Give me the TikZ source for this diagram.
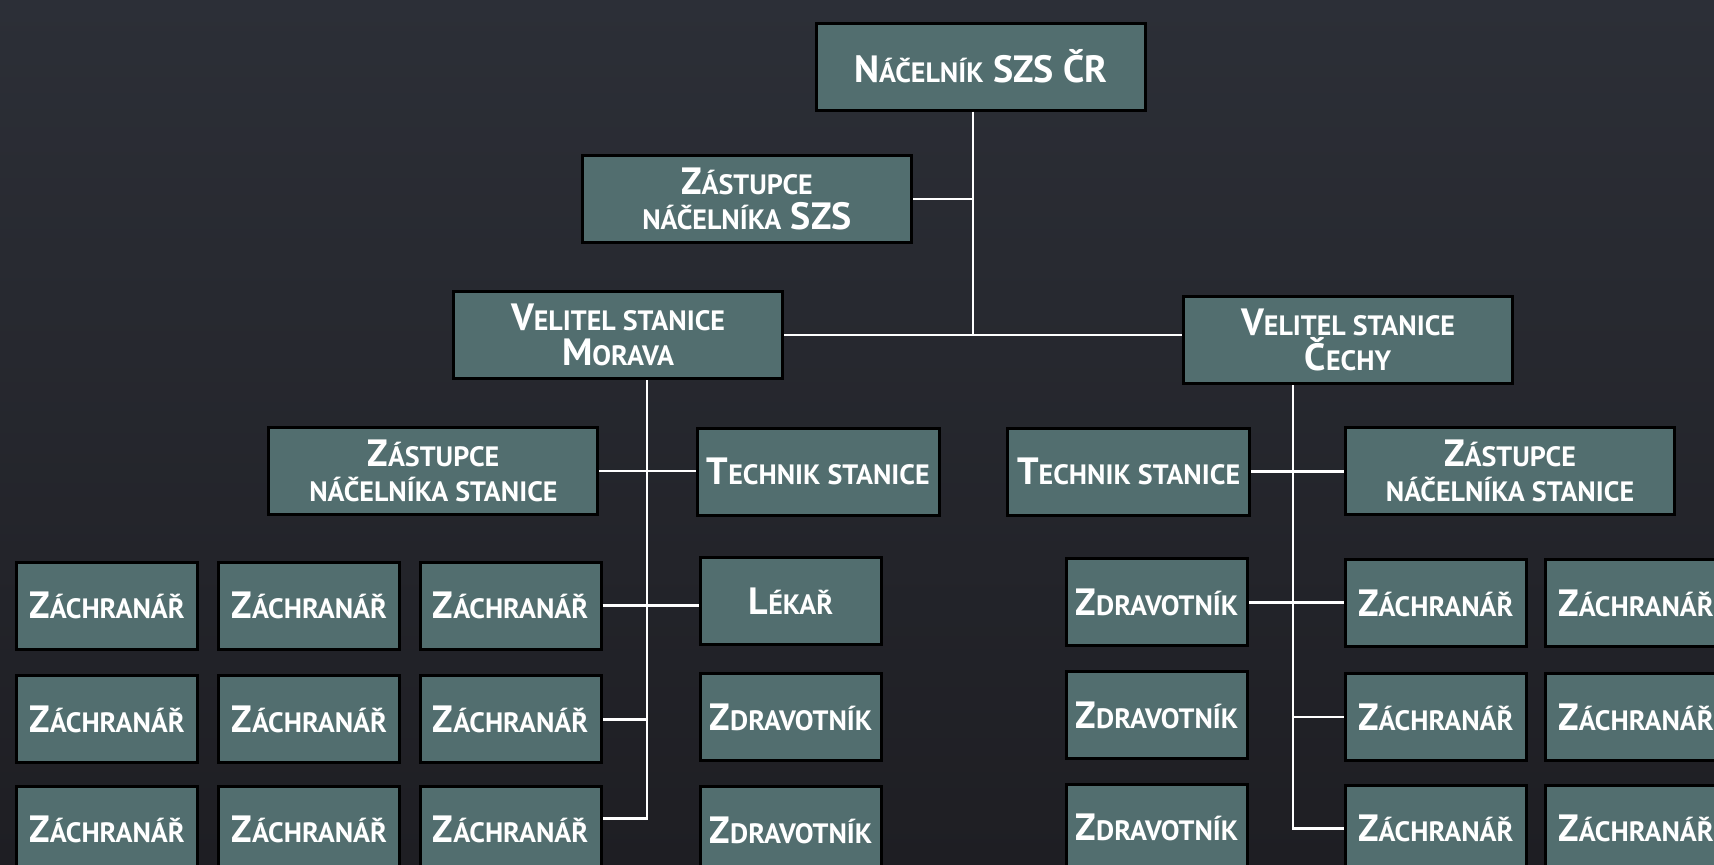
\documentclass[tikz,border=0pt]{standalone}
\usepackage{fontspec}
\setmainfont{PT Sans}
\definecolor{bgtop}{RGB}{44,47,55}
\definecolor{bgbot}{RGB}{30,30,35}
\definecolor{boxfill}{RGB}{82,110,111}
\newcommand\sm[1]{{\fontsize{14}{17.5}\selectfont#1}}
\tikzset{
  box/.style={draw=black, line width=1.5pt, fill=boxfill, text=white, inner sep=0pt,
    align=center, font=\bfseries\fontsize{19}{17.5}\selectfont},
  widebox/.style={box, minimum width=164.5pt, minimum height=43.5pt},
  midbox/.style={box, minimum width=121pt, minimum height=43.5pt},
  smallbox/.style={box, minimum width=90.5pt, minimum height=43.5pt},
  link/.style={draw=white, line width=1.25pt},
}
\begin{document}
\begin{tikzpicture}[x=0.5pt, y=-0.5pt]
    \useasboundingbox (0,0) rectangle (1714,864);
    \clip (0,0) rectangle (1714,864);
    \fill[top color=bgtop, bottom color=bgbot] (0,0) rectangle (1714,864);
    % trunks
    \coordinate (tk0) at (973,0);
    \coordinate (tk1) at (647,0);
    \coordinate (tk2) at (1293,0);
    % upper levels
    \node[widebox] (top) at (981,66.7) {N\sm{ÁČELNÍK} SZS ČR};
    \node[widebox] (zsz) at (747,199) {Z\sm{ÁSTUPCE}\\\sm{NÁČELNÍKA} SZS};
    \node[widebox] (mor) at (618,335) {V\sm{ELITEL STANICE}\\M\sm{ORAVA}};
    \node[widebox] (cech) at (1348,340) {V\sm{ELITEL STANICE}\\Č\sm{ECHY}};
    \node[widebox] (zsl) at (433.4,471) {Z\sm{ÁSTUPCE}\\\sm{NÁČELNÍKA STANICE}};
    \node[midbox] (tecl) at (818.2,471.7) {T\sm{ECHNIK STANICE}};
    \node[midbox] (tecr) at (1128.6,471.7) {T\sm{ECHNIK STANICE}};
    \node[widebox] (zsr) at (1510,471) {Z\sm{ÁSTUPCE}\\\sm{NÁČELNÍKA STANICE}};
    % Morava
    \node[smallbox] (lekar) at (791,601) {L\sm{ÉKAŘ}};
    \node[smallbox] (zdl2) at (791,717) {Z\sm{DRAVOTNÍK}};
    \node[smallbox] (zdl3) at (791,830) {Z\sm{DRAVOTNÍK}};
    \foreach \c/\x in {1/107,2/309.3,3/510.5}
      \foreach \r/\y in {1/605.5,2/719.3,3/829.7}
        \node[smallbox] (zl\r\c) at (\x,\y) {Z\sm{ÁCHRANÁŘ}};
    % Cechy
    \foreach \r/\y in {1/602.3,2/715,3/827.5}
      \node[smallbox] (zdr\r) at (1157,\y) {Z\sm{DRAVOTNÍK}};
    \foreach \c/\x in {1/1435.8,2/1636}
      \foreach \r/\y in {1/603.3,2/717,3/828.5}
        \node[smallbox] (zr\r\c) at (\x,\y) {Z\sm{ÁCHRANÁŘ}};
    \coordinate (zl33in) at ([yshift=5.5pt]zl33.east);
    % connectors
    \draw[link] (top.south -| tk0) -- (tk0 |- mor.east);
    \draw[link] (zsz.east) -- (zsz.east -| tk0);
    \draw[link] (mor.east) -- (mor.east -| cech.west);
    \draw[link] (mor.south -| tk1) -- (tk1 |- zl33in) -- (zl33in);
    \draw[link] (zsl.east) -- (zsl.east -| tecl.west);
    \draw[link] (zl13.east) -- (zl13.east -| lekar.west);
    \draw[link] (tk1 |- zl23.east) -- (zl23.east);
    \draw[link] (cech.south -| tk2) -- (tk2 |- zr31.west) -- (zr31.west);
    \draw[link] (tecr.east) -- (tecr.east -| zsr.west);
    \draw[link] (zdr1.east) -- (zdr1.east -| zr11.west);
    \draw[link] (tk2 |- zr21.west) -- (zr21.west);
\end{tikzpicture}
\end{document}
